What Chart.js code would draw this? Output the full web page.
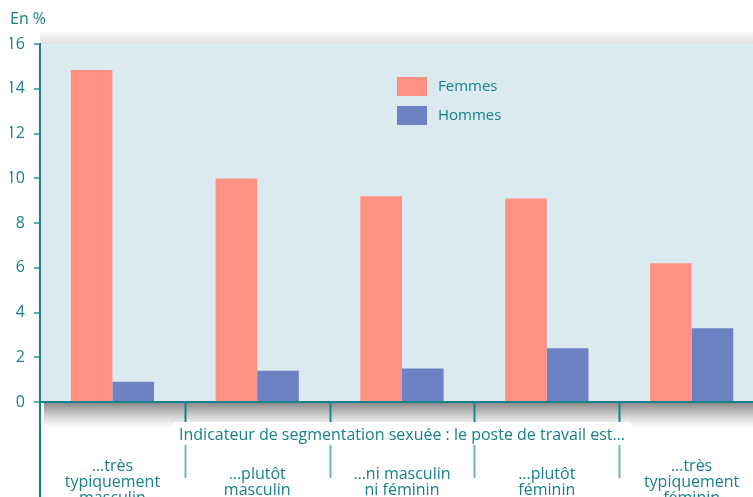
<!DOCTYPE html>
<html>
<head>
<meta charset="utf-8">
<script src="https://cdn.jsdelivr.net/npm/chart.js@4.4.0/dist/chart.umd.min.js"></script>
<style>
	body { margin: 0; overflow: hidden; background: #fff; }
	#wrap { width: 753px; height: 497px; overflow: hidden; }
</style>
</head>
<body>
<div id="wrap"><canvas id="segChart" width="764" height="510"></canvas></div>
<script>
const categories = [
	["…très", "typiquement", "masculin"],
	["…plutôt", "masculin"],
	["…ni masculin", "ni féminin"],
	["…plutôt", "féminin"],
	["…très", "typiquement", "féminin"]
];
const femmes = [14.85, 10.0, 9.2, 9.1, 6.2];
const hommes = [0.9, 1.4, 1.5, 2.4, 3.3];
const yTicks = [0, 2, 4, 6, 8, 10, 12, 14, 16];
const axisTitle = "Indicateur de segmentation sexuée : le poste de travail est…";

const teal = "#17808a";
const font = "'Open Sans', 'Noto Sans', sans-serif";

/*background, shadows, separators and the legend box*/
const decor = {
	id: "decor",
	beforeDraw(chart) {
		const { ctx, chartArea: a } = chart;
		ctx.save();
		// soft shadow above the plot
		let g = ctx.createLinearGradient(0, a.top - 14, 0, a.top);
		g.addColorStop(0, "rgba(200,200,200,0)");
		g.addColorStop(1, "rgba(200,200,200,0.6)");
		ctx.fillStyle = g;
		ctx.fillRect(a.left, a.top - 14, a.right - a.left, 14);
		// darker shadow under the x axis
		g = ctx.createLinearGradient(0, a.bottom, 0, a.bottom + 26);
		g.addColorStop(0, "rgba(110,110,110,0.85)");
		g.addColorStop(1, "rgba(160,160,160,0)");
		ctx.fillStyle = g;
		ctx.fillRect(a.left + 4, a.bottom, a.right - a.left, 26);
		// plot background
		ctx.fillStyle = "#dbeaee";
		ctx.fillRect(a.left, a.top, a.right - a.left, a.bottom - a.top);
		ctx.restore();
	},
	afterDraw(chart) {
		const { ctx, chartArea: a } = chart;
		const x = chart.scales.x;
		ctx.save();
		// y axis keeps going down to the bottom
		ctx.strokeStyle = teal;
		ctx.lineWidth = 2;
		ctx.beginPath();
		ctx.moveTo(a.left, a.bottom);
		ctx.lineTo(a.left, chart.height);
		ctx.stroke();
		// separators between categories
		const half = (x.getPixelForValue(1) - x.getPixelForValue(0)) / 2;
		for (let i = 0; i < categories.length - 1; i++) {
			const px = Math.round(x.getPixelForValue(i) + half) + 0.5;
			ctx.strokeStyle = teal;
			ctx.lineWidth = 2;
			ctx.beginPath();
			ctx.moveTo(px, a.bottom);
			ctx.lineTo(px, a.bottom + 20);
			ctx.stroke();
			ctx.strokeStyle = "rgba(23,128,138,0.6)";
			ctx.beginPath();
			ctx.moveTo(px, a.bottom + 43);
			ctx.lineTo(px, a.bottom + 76);
			ctx.stroke();
		}
		// axis title on its white band
		ctx.font = "16px " + font;
		const w = ctx.measureText(axisTitle).width;
		const cx = (a.left + a.right) / 2;
		ctx.fillStyle = "#fff";
		ctx.fillRect(cx - w / 2 - 6, a.bottom + 20, w + 12, 23);
		ctx.fillStyle = teal;
		ctx.textAlign = "center";
		ctx.textBaseline = "middle";
		ctx.fillText(axisTitle, cx, a.bottom + 33);
		// legend inside the plot
		ctx.font = "15px " + font;
		ctx.textAlign = "left";
		chart.data.datasets.forEach((ds, i) => {
			const by = 77 + i * 29;
			ctx.fillStyle = ds.backgroundColor;
			ctx.fillRect(397, by, 30, 19);
			ctx.fillStyle = teal;
			ctx.fillText(ds.label, 438, by + 10);
		});
		ctx.restore();
	}
};

new Chart(document.getElementById("segChart"), {
	type: "bar",
	data: {
		labels: categories,
		datasets: [
			{ label: "Femmes", data: femmes, backgroundColor: "#ff9084" },
			{ label: "Hommes", data: hommes, backgroundColor: "#6d82c2" }
		]
	},
	options: {
		responsive: false,
		devicePixelRatio: 1,
		animation: false,
		categoryPercentage: 0.575,
		barPercentage: 1,
		layout: { padding: { left: 10, right: 0, top: 0, bottom: 2 } },
		plugins: {
			legend: { display: false },
			tooltip: { enabled: false },
			title: {
				display: true,
				text: "En %",
				align: "start",
				color: teal,
				font: { family: font, size: 16, weight: "normal", lineHeight: 1.2 },
				padding: { top: 10, bottom: 15 }
			}
		},
		scales: {
			x: {
				grid: { display: true, drawOnChartArea: false, drawTicks: true, tickLength: 64, tickColor: "rgba(0,0,0,0)" },
				border: { display: true, color: teal, width: 2 },
				ticks: {
					color: teal,
					maxRotation: 0,
					autoSkip: false,
					crossAlign: "center",
					padding: 0,
					font: { family: font, size: 16, lineHeight: "16px" }
				},
				afterFit(scale) {
					scale.height = 106;
					scale.paddingLeft = 0;
					scale.paddingRight = 0;
				}
			},
			y: {
				min: 0,
				max: 16,
				afterBuildTicks(scale) { scale.ticks = yTicks.map(v => ({ value: v })); },
				afterFit(scale) { scale.width = 30; },
				grid: { drawOnChartArea: false, drawTicks: true, tickLength: 6, color: "#5fa9b0", lineWidth: 2 },
				border: { display: true, color: teal, width: 2 },
				ticks: {
					color: teal,
					padding: 9,
					font: { family: font, size: 16 }
				}
			}
		}
	},
	plugins: [decor]
});
</script>
</body>
</html>
